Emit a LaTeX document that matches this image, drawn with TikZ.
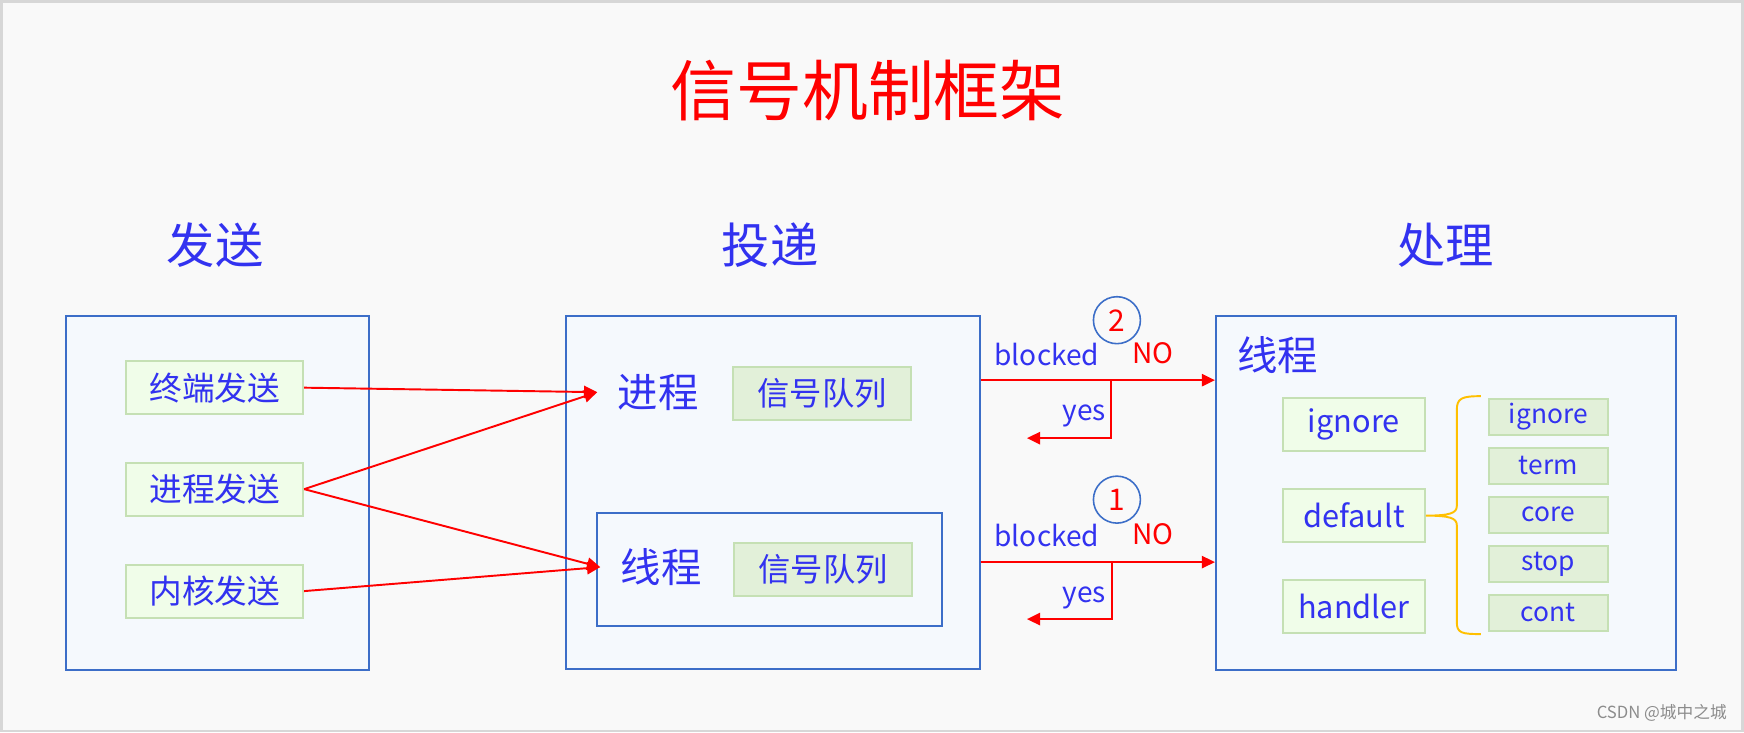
\documentclass[tikz,border=0pt]{standalone}
\usepackage{fontspec}
\setmainfont{Noto Sans CJK SC}
\usetikzlibrary{arrows.meta,positioning}
\definecolor{pageBg}{RGB}{249,249,249}
\definecolor{pageLine}{RGB}{215,215,215}
\definecolor{boxLine}{RGB}{60,110,200}
\definecolor{boxFill}{RGB}{245,249,253}
\definecolor{inkBlue}{RGB}{50,50,240}
\definecolor{sendFill}{RGB}{240,253,233}
\definecolor{queueFill}{RGB}{226,240,217}
\definecolor{greenLine}{RGB}{197,224,180}
\definecolor{braceGold}{RGB}{255,192,0}
\newcommand{\setfs}[1]{\fontsize{#1}{#1}\selectfont}
\tikzset{
	bigbox/.style 2 args={draw=boxLine,fill=boxFill,line width=1.1pt,minimum width=#1,minimum height=#2,inner sep=0pt},
	sendbox/.style={draw=greenLine,fill=sendFill,line width=1.1pt,minimum width=3.54cm,minimum height=1.06cm,text=inkBlue,font=\setfs{18.6pt}},
	queuebox/.style={draw=greenLine,fill=queueFill,line width=1.1pt,minimum width=3.56cm,minimum height=1.06cm,text=inkBlue,font=\setfs{18.4pt}},
	actbox/.style={draw=greenLine,fill=sendFill,line width=1.1pt,minimum width=2.84cm,minimum height=1.06cm,text=inkBlue,font=\setfs{17.5pt}},
	optbox/.style={draw=greenLine,fill=queueFill,line width=1.1pt,minimum width=2.38cm,minimum height=0.72cm,inner sep=0pt,text=inkBlue,font=\setfs{15pt}},
	headtxt/.style={text=inkBlue,font=\setfs{27.5pt}},
	unitlbl/.style={text=inkBlue,font=\setfs{23pt},inner sep=0pt,outer sep=0.41cm},
	flowtxt/.style={font=\setfs{16pt},inner sep=0pt},
	stepnum/.style={circle,draw=boxLine,line width=0.9pt,minimum size=0.94cm,inner sep=0pt,text=red,font=\setfs{17pt}},
	redarr/.style={draw=red,line width=1.1pt,-{Triangle[length=7.5pt,width=7pt]}}
}

\begin{document}
\begin{tikzpicture}[x=0.02cm,y=-0.02cm]
		\fill[pageBg] (0,0) rectangle (1744,732);
		\draw[pageLine,line width=1.5pt] (1,1) rectangle (1743,731);
		\useasboundingbox (0,0) rectangle (1744,732);
		% titles
		\node[text=red,font=\setfs{37.5pt}] (title) at (868,90) {信号机制框架};
		\node[headtxt] (hdSend) at (215,245) {发送};
		\node[headtxt] (hdDeliver) at (770,245) {投递};
		\node[headtxt] (hdHandle) at (1446,245) {处理};
		% the three columns
		\node[bigbox={6.06cm}{7.08cm}] (sendBox) at (217.5,493) {};
		\node[bigbox={8.28cm}{7.06cm}] (deliverBox) at (773,492.5) {};
		\node[bigbox={6.9cm}{2.26cm}] (threadBox) at (769.5,569.5) {};
		\node[bigbox={9.2cm}{7.08cm}] (handleBox) at (1446,493) {};
		\node[sendbox] (sndTerm) at (214.5,387.5) {终端发送};
		\node[sendbox] (sndProc) at (214.5,489) {进程发送};
		\node[sendbox] (sndKern) at (214.5,591) {内核发送};
		\node[unitlbl] (procLbl) at (658,392) {进程};
		\node[unitlbl] (thrLbl) at (661,567) {线程};
		\node[queuebox] (queueP) at (822,393.5) {信号队列};
		\node[queuebox] (queueT) at (823,569) {信号队列};
		\node[text=inkBlue,font=\setfs{23pt}] (hThrLbl) at (1278,355) {线程};
		\node[actbox] (actIgnore) at (1354,424.5) {ignore};
		\node[actbox] (actDefault) at (1354,515.5) {default};
		\node[actbox] (actHandler) at (1354,606.5) {handler};
		\foreach \name/\y in {ignore/416.5,term/465.5,core/514.5,stop/564,cont/612.5}
			\node[optbox] (opt\name) at (1548.5,\y) {\name};
		\draw[braceGold,line width=1.1pt] (1481,396) .. controls (1462,396) and (1457,398) .. (1457,410) -- (1457,506)
			.. controls (1457,513) and (1450,515.5) .. (actDefault.east)
			.. controls (1450,515.5) and (1457,518) .. (1457,525) -- (1457,622) .. controls (1457,633) and (1462,634) .. (1481,634);
		% sending
		\draw[redarr] (sndTerm.east) -- (procLbl.west);
		\draw[redarr] (sndProc.east) -- (procLbl.west);
		\draw[redarr] (sndProc.east) -- (thrLbl.west);
		\draw[redarr] (sndKern.east) -- (thrLbl.west);
		% delivery checks
		\coordinate (fork2) at (1111,380); \coordinate (back2) at (1027,438);
		\coordinate (fork1) at (1112,562); \coordinate (back1) at (1027,619);
		\draw[redarr] (fork2 -| deliverBox.east) -- (fork2 -| handleBox.west);
		\draw[redarr] (fork2) |- (back2);
		\draw[redarr] (fork1 -| deliverBox.east) -- (fork1 -| handleBox.west);
		\draw[redarr] (fork1) |- (back1);
		\node[stepnum] (step2) at (1117,320) {2};
		\node[stepnum] (step1) at (1117,499.5) {1};
		\node[flowtxt,text=inkBlue] (blk2) at (1047,354) {blocked};
		\node[flowtxt,text=red] (no2) at (1153,353) {NO};
		\node[flowtxt,text=inkBlue] (yes2) at (1084.5,416) {yes};
		\node[flowtxt,text=inkBlue] (blk1) at (1047,535) {blocked};
		\node[flowtxt,text=red] (no1) at (1153,534) {NO};
		\node[flowtxt,text=inkBlue] (yes1) at (1084.5,598) {yes};
		\node[text=black!45,font=\setfs{9.5pt}] (mark) at (1662,713) {CSDN @城中之城};
\end{tikzpicture}
\end{document}
